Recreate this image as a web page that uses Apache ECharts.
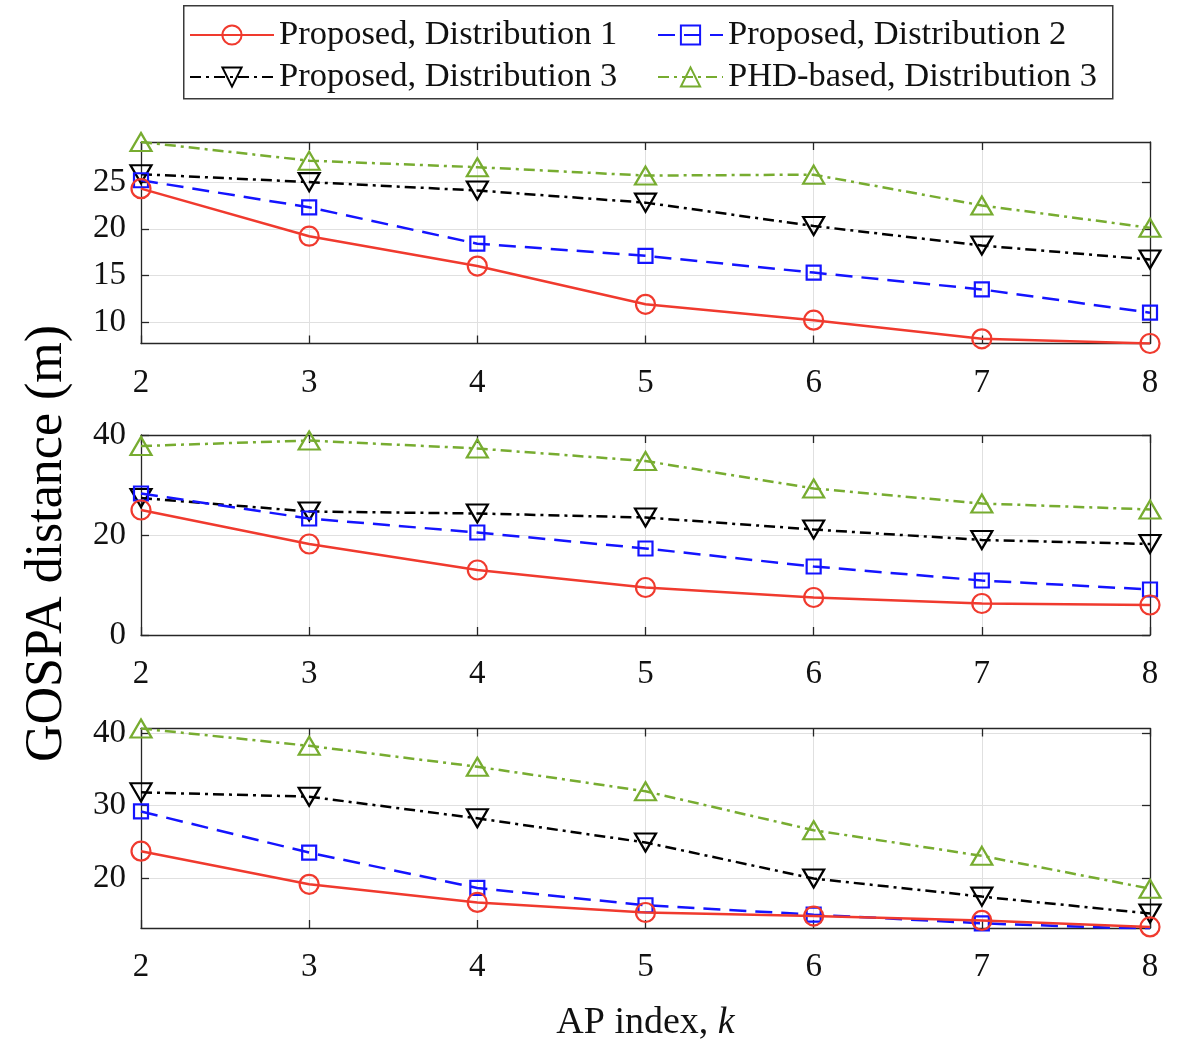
<!DOCTYPE html>
<html>
<head>
<meta charset="utf-8">
<script src="https://cdn.jsdelivr.net/npm/echarts@6/dist/echarts.min.js"></script>
<style>
html,body{margin:0;padding:0;background:#fff;}
#chart{width:1179px;height:1042px;}
</style>
</head>
<body>
<div id="chart"></div>
<script>
// ---- data ----
const apIndex = [2, 3, 4, 5, 6, 7, 8];
const seriesNames = ['Proposed, Distribution 1', 'Proposed, Distribution 2', 'Proposed, Distribution 3', 'PHD-based, Distribution 3'];

// panel 1
const p1Dist1 = [24.3, 19.2, 16.0, 11.9, 10.2, 8.2, 7.7];
const p1Dist2 = [25.2, 22.3, 18.4, 17.1, 15.3, 13.5, 11.0];
const p1Dist3 = [25.85, 25.0, 24.1, 22.8, 20.3, 18.2, 16.7];
const p1Phd3  = [29.3, 27.3, 26.6, 25.7, 25.8, 22.5, 20.1];
// panel 2
const p2Dist1 = [25.0, 18.2, 13.0, 9.5, 7.5, 6.3, 6.0];
const p2Dist2 = [28.3, 23.3, 20.5, 17.3, 13.7, 10.9, 9.1];
const p2Dist3 = [27.4, 24.7, 24.3, 23.5, 21.1, 19.0, 18.2];
const p2Phd3  = [37.8, 38.9, 37.3, 34.8, 29.3, 26.3, 25.1];
// panel 3
const p3Dist1 = [23.7, 19.1, 16.6, 15.2, 14.7, 14.1, 13.2];
const p3Dist2 = [29.2, 23.5, 18.6, 16.2, 14.9, 13.7, 12.9];
const p3Dist3 = [31.85, 31.25, 28.25, 24.9, 19.9, 17.4, 15.05];
const p3Phd3  = [40.7, 38.3, 35.4, 32.0, 26.6, 23.05, 18.5];

const yTicks1 = [10, 15, 20, 25];
const yTicks2 = [0, 20, 40];
const yTicks3 = [20, 30, 40];
const yRange1 = [7.7, 29.3];
const yRange2 = [0, 40];
const yRange3 = [13.05, 40.7];
const xTickLabels = ['2', '3', '4', '5', '6', '7', '8'];

// ---- styles ----
const FONT = 'Liberation Serif';
const AXC = '#262626';
const GRIDC = '#e0e0e0';
const styles = [
  {color: '#f03a2e', symbol: 'circle', size: 19, rot: 0, type: 'solid'},
  {color: '#1414ff', symbol: 'rect', size: 14, rot: 0, type: [17, 9]},
  {color: '#000000', symbol: 'triangle', size: [21, 18], rot: 180, type: [11, 5, 3, 5]},
  {color: '#77ac30', symbol: 'triangle', size: [21, 18], rot: 0, type: [11, 5, 3, 5]}
];

const panels = [
  {data: [p1Dist1, p1Dist2, p1Dist3, p1Phd3], ticks: yTicks1, range: yRange1, top: 142, height: 201.5},
  {data: [p2Dist1, p2Dist2, p2Dist3, p2Phd3], ticks: yTicks2, range: yRange2, top: 435, height: 200},
  {data: [p3Dist1, p3Dist2, p3Dist3, p3Phd3], ticks: yTicks3, range: yRange3, top: 728.5, height: 199.5}
];

const grids = [], xAxes = [], yAxes = [], series = [];
panels.forEach((p, i) => {
  grids.push({left: 141, right: 29, top: p.top, height: p.height, containLabel: false, outerBoundsMode: 'none'});
  const last = i === panels.length - 1;
  xAxes.push({
    type: 'value', gridIndex: i, min: 2, max: 8, interval: 1, position: 'bottom',
    axisLine: {show: true, onZero: false, lineStyle: {color: AXC, width: 1.3}},
    axisTick: {show: true, inside: true, length: 8, lineStyle: {color: AXC, width: 1.3}},
    axisLabel: {show: true, margin: 23, color: '#111', fontFamily: FONT, fontSize: 33,
      formatter: v => xTickLabels[apIndex.indexOf(v)] || ''},
    splitLine: {show: true, lineStyle: {color: GRIDC, width: 1}},
    name: last ? '{a|AP index, }{b|k}' : '',
    nameLocation: 'middle', nameGap: 76,
    nameTextStyle: {rich: {
      a: {fontFamily: FONT, fontSize: 38, color: '#111'},
      b: {fontFamily: FONT, fontSize: 38, color: '#111', fontStyle: 'italic'}
    }}
  });
  xAxes.push({
    type: 'value', gridIndex: i, min: 2, max: 8, interval: 1, position: 'top',
    axisLine: {show: true, onZero: false, lineStyle: {color: AXC, width: 1.3}},
    axisTick: {show: true, inside: true, length: 8, lineStyle: {color: AXC, width: 1.3}},
    axisLabel: {show: false}, splitLine: {show: false}
  });
  yAxes.push({
    type: 'value', gridIndex: i, min: p.range[0], max: p.range[1], position: 'left',
    axisLine: {show: true, onZero: false, lineStyle: {color: AXC, width: 1.3}},
    axisTick: {show: true, inside: true, length: 8, customValues: p.ticks, lineStyle: {color: AXC, width: 1.3}},
    axisLabel: {show: true, margin: 15, color: '#111', fontFamily: FONT, fontSize: 33, customValues: p.ticks},
    splitLine: {show: true, lineStyle: {color: GRIDC, width: 1}},
    name: i === 1 ? 'GOSPA distance (m)' : '',
    nameLocation: 'middle', nameGap: 68,
    nameTextStyle: {fontFamily: FONT, fontSize: 52, color: '#000', padding: [0, 17, 0, 0]}
  });
  yAxes.push({
    type: 'value', gridIndex: i, min: p.range[0], max: p.range[1], position: 'right',
    axisLine: {show: true, onZero: false, lineStyle: {color: AXC, width: 1.3}},
    axisTick: {show: true, inside: true, length: 8, customValues: p.ticks, lineStyle: {color: AXC, width: 1.3}},
    axisLabel: {show: false, customValues: p.ticks}, splitLine: {show: false}
  });
  p.data.forEach((vals, s) => {
    const st = styles[s];
    series.push({
      name: seriesNames[s], type: 'line', xAxisIndex: 2 * i, yAxisIndex: 2 * i,
      data: apIndex.map((k, j) => [k, vals[j]]),
      symbol: st.symbol, symbolSize: st.size, symbolRotate: st.rot,
      clip: true, z: 10 - s,
      lineStyle: {color: st.color, width: 2.5, type: st.type},
      itemStyle: {color: 'rgba(255,255,255,0)', borderColor: st.color, borderWidth: 2.2},
      emphasis: {disabled: true},
      animation: false
    });
  });
});

const legendCommon = {
  orient: 'vertical', top: 17, itemHeight: 24, itemGap: 6, padding: 0,
  textStyle: {fontFamily: FONT, fontSize: 34.5, color: '#111', lineHeight: 36},
  selectedMode: false
};

const option = {
  backgroundColor: '#fff',
  animation: false,
  grid: grids, xAxis: xAxes, yAxis: yAxes, series: series,
  legend: [
    Object.assign({}, legendCommon, {left: 189, itemWidth: 84, data: [seriesNames[0], seriesNames[2]]}),
    Object.assign({}, legendCommon, {left: 657, itemWidth: 65, data: [seriesNames[1], seriesNames[3]]})
  ],
  graphic: [{
    type: 'rect', left: 183, top: 5, z: -1, silent: true,
    shape: {width: 929, height: 93},
    style: {fill: '#fff', stroke: '#3a3a3a', lineWidth: 1.5}
  }]
};

const chart = echarts.init(document.getElementById('chart'), null, {renderer: 'canvas'});
chart.setOption(option);
</script>
</body>
</html>
